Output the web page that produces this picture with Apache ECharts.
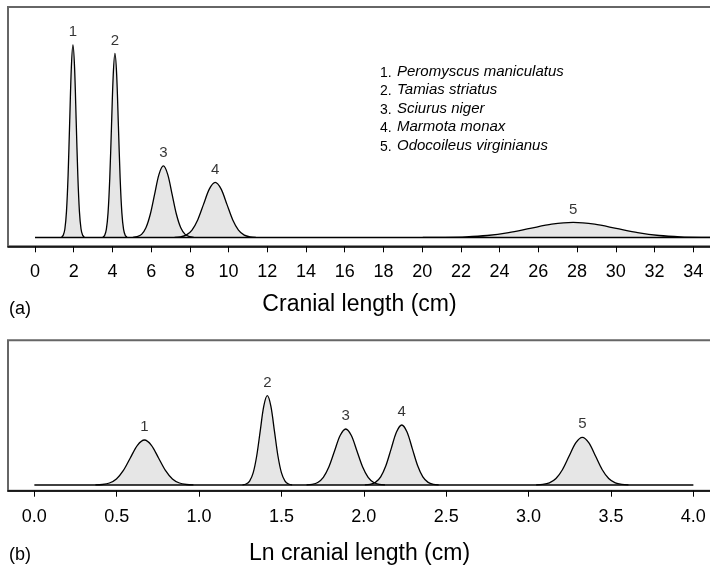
<!DOCTYPE html>
<html>
<head>
<meta charset="utf-8">
<title>Cranial length distributions</title>
<script src="https://cdn.jsdelivr.net/npm/echarts@6/dist/echarts.min.js"></script>
<style>
  html, body { margin: 0; padding: 0; background: #fff; }
  #chart { width: 710px; height: 568px; }
</style>
</head>
<body>
<div id="chart"></div>
<script>
// species legend
const speciesNumbers = ['1.', '2.', '3.', '4.', '5.']
const speciesNames = [
  'Peromyscus maniculatus',
  'Tamias striatus',
  'Sciurus niger',
  'Marmota monax',
  'Odocoileus virginianus'
]
const peakLabels = ['1', '2', '3', '4', '5']

// panel (a): cranial length (cm), density
const xA1 = [1.376, 1.459, 1.543, 1.626, 1.710, 1.793, 1.877, 1.96, 2.044, 2.127, 2.211, 2.294, 2.378, 2.461, 2.545]
const yA1 = [0.005, 0.027, 0.106, 0.326, 0.781, 1.459, 2.123, 2.406, 2.123, 1.459, 0.781, 0.326, 0.106, 0.027, 0.005]
const xA2 = [3.507, 3.596, 3.685, 3.774, 3.863, 3.952, 4.041, 4.13, 4.219, 4.308, 4.397, 4.486, 4.575, 4.664, 4.753]
const yA2 = [0.005, 0.026, 0.101, 0.311, 0.747, 1.395, 2.030, 2.30, 2.030, 1.395, 0.747, 0.311, 0.101, 0.026, 0.005]
const xA3 = [5.055, 5.28, 5.505, 5.73, 5.955, 6.18, 6.405, 6.63, 6.855, 7.08, 7.305, 7.53, 7.755, 7.98, 8.205]
const yA3 = [0.002, 0.010, 0.039, 0.121, 0.290, 0.542, 0.789, 0.894, 0.789, 0.542, 0.290, 0.121, 0.039, 0.010, 0.002]
const xA4 = [7.21, 7.51, 7.81, 8.11, 8.41, 8.71, 9.01, 9.31, 9.61, 9.91, 10.21, 10.51, 10.81, 11.11, 11.41]
const yA4 = [0.002, 0.008, 0.030, 0.093, 0.223, 0.417, 0.607, 0.688, 0.607, 0.417, 0.223, 0.093, 0.030, 0.008, 0.002]
const xA5 = [20.03, 21.14, 22.25, 23.36, 24.47, 25.58, 26.69, 27.8, 28.91, 30.02, 31.13, 32.24, 33.35, 34.46, 35.57]
const yA5 = [0.0004, 0.002, 0.008, 0.025, 0.061, 0.114, 0.166, 0.188, 0.166, 0.114, 0.061, 0.025, 0.008, 0.002, 0.0004]
const ticksA = [0, 2, 4, 6, 8, 10, 12, 14, 16, 18, 20, 22, 24, 26, 28, 30, 32, 34]

// panel (b): ln cranial length
const xB1 = [0.3705, 0.413, 0.4555, 0.498, 0.5405, 0.583, 0.6255, 0.668, 0.7105, 0.753, 0.7955, 0.838, 0.8805, 0.923, 0.9655]
const yB1 = [0.010, 0.050, 0.198, 0.609, 1.461, 2.729, 3.971, 4.50, 3.971, 2.729, 1.461, 0.609, 0.198, 0.050, 0.010]
const xB2 = [1.2635, 1.285, 1.3065, 1.328, 1.3495, 1.371, 1.3925, 1.414, 1.4355, 1.457, 1.4785, 1.5, 1.5215, 1.543, 1.5645]
const yB2 = [0.020, 0.099, 0.392, 1.208, 2.900, 5.416, 7.881, 8.93, 7.881, 5.416, 2.900, 1.208, 0.392, 0.099, 0.020]
const xB3 = [1.652, 1.686, 1.72, 1.754, 1.788, 1.822, 1.856, 1.89, 1.924, 1.958, 1.992, 2.026, 2.06, 2.094, 2.128]
const yB3 = [0.012, 0.062, 0.246, 0.758, 1.818, 3.396, 4.942, 5.60, 4.942, 3.396, 1.818, 0.758, 0.246, 0.062, 0.012]
const xB4 = [2.006, 2.038, 2.07, 2.102, 2.134, 2.166, 2.198, 2.23, 2.262, 2.294, 2.326, 2.358, 2.39, 2.422, 2.454]
const yB4 = [0.013, 0.067, 0.263, 0.812, 1.948, 3.639, 5.295, 6.00, 5.295, 3.639, 1.948, 0.812, 0.263, 0.067, 0.013]
const xB5 = [3.046, 3.086, 3.126, 3.166, 3.206, 3.246, 3.286, 3.326, 3.366, 3.406, 3.446, 3.486, 3.526, 3.566, 3.606]
const yB5 = [0.011, 0.053, 0.209, 0.645, 1.549, 2.893, 4.210, 4.77, 4.210, 2.893, 1.549, 0.645, 0.209, 0.053, 0.011]
const ticksB = [0, 0.5, 1.0, 1.5, 2.0, 2.5, 3.0, 3.5, 4.0]

const curvesA = [[xA1, yA1], [xA2, yA2], [xA3, yA3], [xA4, yA4], [xA5, yA5]]
const curvesB = [[xB1, yB1], [xB2, yB2], [xB3, yB3], [xB4, yB4], [xB5, yB5]]

const FONT = '"Liberation Sans", Arial, Helvetica, sans-serif'
const chart = echarts.init(document.getElementById('chart'), null, { renderer: 'canvas' })

const pairs = (xs, ys) => xs.map((x, i) => [x, ys[i]])

const curveSeries = (curves, axisIndex) => curves.map(([xs, ys]) => ({
  type: 'line',
  xAxisIndex: axisIndex,
  yAxisIndex: axisIndex,
  data: pairs(xs, ys),
  smooth: 0.3,
  symbol: 'none',
  lineStyle: { color: '#000', width: 1.3 },
  areaStyle: { color: '#e6e6e6', opacity: 1 },
  z: 2
}))

// one label above each peak, taken from the curve's highest point
const peakSeries = (curves, axisIndex) => ({
  type: 'scatter',
  xAxisIndex: axisIndex,
  yAxisIndex: axisIndex,
  symbolSize: 1,
  itemStyle: { color: 'rgba(0,0,0,0)' },
  data: curves.map(([xs, ys], i) => {
    const k = ys.indexOf(Math.max(...ys))
    return { value: [xs[k], ys[k]], name: peakLabels[i] }
  }),
  label: {
    show: true,
    position: 'top',
    distance: 5,
    formatter: p => p.name,
    fontFamily: FONT,
    fontSize: 15,
    color: '#000'
  },
  z: 4
})

const baseline = (from, to, axisIndex) => ({
  type: 'line',
  xAxisIndex: axisIndex,
  yAxisIndex: axisIndex,
  data: [[from, 0], [to, 0]],
  symbol: 'none',
  lineStyle: { color: '#000', width: 1.5 },
  z: 3
})

const xAxisBase = (min, max, ticks, fmt, name, nameGap, gridIndex) => ({
  type: 'value',
  gridIndex: gridIndex,
  min: min,
  max: max,
  name: name,
  nameLocation: 'middle',
  nameGap: nameGap,
  nameTextStyle: { fontFamily: FONT, fontSize: 23, color: '#000' },
  splitLine: { show: false },
  axisLine: { show: true, onZero: false, lineStyle: { color: '#000', width: 1.5 } },
  axisTick: { show: true, customValues: ticks, length: 6, lineStyle: { color: '#000', width: 1 } },
  axisLabel: {
    customValues: ticks,
    formatter: fmt,
    fontFamily: FONT,
    fontSize: 18,
    color: '#000',
    margin: 17
  }
})

// legend text
const legendGraphics = []
speciesNames.forEach((nm, i) => {
  const y = 71 + i * 18.5
  legendGraphics.push({
    type: 'text', left: 380, top: y - 5,
    style: { text: speciesNumbers[i], font: '14px ' + FONT, fill: '#000' }
  })
  legendGraphics.push({
    type: 'text', left: 397, top: y - 7,
    style: { text: nm, font: 'italic 15px ' + FONT, fill: '#000' }
  })
})

const option = {
  animation: false,
  backgroundColor: '#fff',
  title: [
    { text: '(a)', left: 4, top: 295, textStyle: { fontFamily: FONT, fontSize: 18, fontWeight: 'normal', color: '#000' } },
    { text: '(b)', left: 4, top: 541, textStyle: { fontFamily: FONT, fontSize: 18, fontWeight: 'normal', color: '#000' } }
  ],
  grid: [
    { left: 8, top: 7, width: 703, height: 239.3, show: true, borderColor: '#666', borderWidth: 2, outerBoundsMode: 'none', containLabel: false },
    { left: 8, top: 340.3, width: 703, height: 150.4, show: true, borderColor: '#666', borderWidth: 2, outerBoundsMode: 'none', containLabel: false }
  ],
  xAxis: [
    xAxisBase(-1.395, 34.92, ticksA, v => String(v), 'Cranial length (cm)', 47, 0),
    xAxisBase(-0.16, 4.107, ticksB, v => v.toFixed(1), 'Ln cranial length (cm)', 51, 1)
  ],
  yAxis: [
    { type: 'value', gridIndex: 0, min: -0.11, max: 2.88, show: false },
    { type: 'value', gridIndex: 1, min: -0.57, max: 14.47, show: false }
  ],
  graphic: legendGraphics,
  series: [
    ...curveSeries(curvesA, 0),
    baseline(0, 34.92, 0),
    peakSeries(curvesA, 0),
    ...curveSeries(curvesB, 1),
    baseline(0, 4.0, 1),
    peakSeries(curvesB, 1)
  ]
}

chart.setOption(option)
</script>
</body>
</html>
